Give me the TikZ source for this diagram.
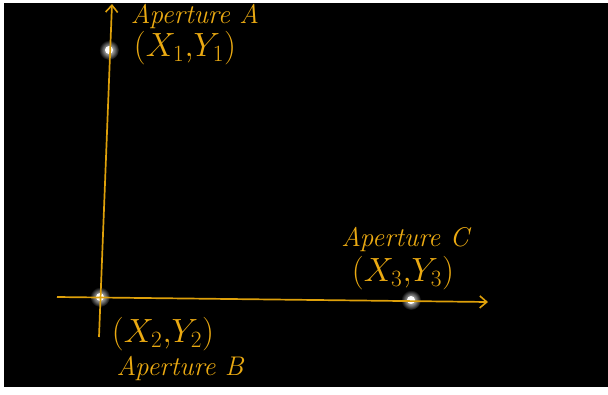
\documentclass[tikz,border=0pt]{standalone}
\usetikzlibrary{arrows.meta}
\definecolor{gold}{RGB}{235,170,18}
\definecolor{axisgold}{RGB}{222,160,10}
\tikzset{
  axis/.style={draw=axisgold, line width=1.7pt, -{Straight Barb[length=7pt,width=12pt,line width=1.6pt]}},
  lbl/.style={text=gold, inner sep=0pt, font=\fontsize{27}{29}\selectfont\itshape},
  mlbl/.style={text=gold, inner sep=0pt, scale=1.35, font=\fontsize{24}{26}\selectfont},
}
\newcommand{\starglow}[1]{%
  \shade[inner color=white, outer color=black] (#1) circle (10);
  \fill[white] (#1) circle (4);
}
\begin{document}
\begin{tikzpicture}[x=1pt,y=-1pt]
\useasboundingbox (0,0) rectangle (608,394);
\fill[white] (0,0) rectangle (608,394);
\fill[black] (4,3) rectangle (608,387);
% stars
\coordinate (A) at (109,50);
\coordinate (B) at (100,297);
\coordinate (C) at (411,300);
\starglow{A}
\starglow{B}
\starglow{C}
% axes
\coordinate (vbot) at (99,337);
\coordinate (vtop) at (112,4);
\coordinate (hleft) at (57,297);
\coordinate (hright) at (488,302);
\draw[axis] (vbot) -- (vtop);
\draw[axis] (hleft) -- (hright);
% labels
\node[lbl] (la) at (195,16) {Aperture A};
\node[mlbl] (ca) at (185,48) {$(X_1{,}Y_1)$};
\node[mlbl] (cb) at (163,334) {$(X_2{,}Y_2)$};
\node[lbl] (lb) at (180,368) {Aperture B};
\node[lbl] (lc) at (405,239) {Aperture C};
\node[mlbl] (cc) at (403,273) {$(X_3{,}Y_3)$};
\end{tikzpicture}
\end{document}
